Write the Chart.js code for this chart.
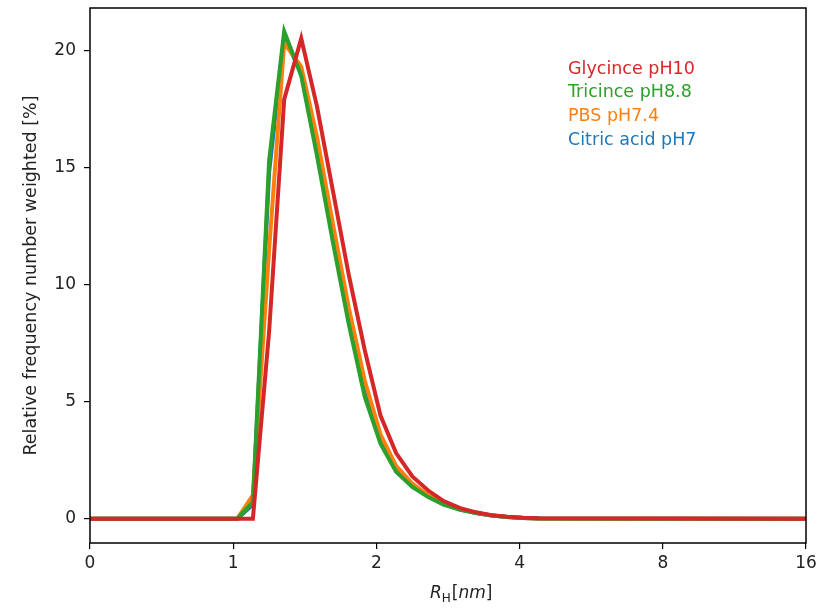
<!DOCTYPE html>
<html>
<head>
<meta charset="utf-8">
<title>Hydrodynamic radius distribution</title>
<script src="https://cdn.jsdelivr.net/npm/chart.js@4.4.1/dist/chart.umd.min.js"></script>
<style>
  html, body { margin: 0; padding: 0; background: #fff; }
  #plot { display: block; }
</style>
</head>
<body>
<canvas id="plot" width="822" height="609"></canvas>
<script>
// hydrodynamic radius bins [nm], log spaced (first/last points pin the flat zero line)
const radius = [0.5, 1.02, 1.10, 1.19, 1.28, 1.39, 1.50, 1.62, 1.75, 1.89, 2.04, 2.20, 2.38, 2.57, 2.77, 3.00, 3.24, 3.49, 3.77, 4.07, 4.40, 16];

// relative frequency, number weighted [%]
const glycine  = [0, 0, 0,   8.0, 17.9, 20.5, 17.6, 14.0, 10.4, 7.2, 4.4, 2.8, 1.8, 1.2, 0.75, 0.45, 0.27, 0.15, 0.08, 0.04, 0.02, 0];
const tricine  = [0, 0, 0.7, 15.3, 20.8, 18.9, 15.5, 11.8, 8.3, 5.2, 3.2, 2.0, 1.35, 0.92, 0.6, 0.38, 0.24, 0.13, 0.07, 0.03, 0.01, 0];
const pbs      = [0, 0, 1.0, 11.5, 20.3, 19.3, 16.3, 12.6, 9.0, 5.9, 3.6, 2.25, 1.5, 1.0, 0.65, 0.41, 0.25, 0.14, 0.07, 0.03, 0.01, 0];
const citric   = [0, 0, 0.6, 14.8, 20.6, 19.0, 15.7, 12.0, 8.5, 5.4, 3.3, 2.05, 1.38, 0.94, 0.61, 0.39, 0.24, 0.13, 0.07, 0.03, 0.01, 0];

const seriesNames  = ['Glycince pH10', 'Tricince pH8.8', 'PBS pH7.4', 'Citric acid pH7'];
const seriesColors = ['#d62728', '#2ca02c', '#ff7f0e', '#1f77b4'];

const xTicks = [0.5, 1, 2, 4, 8, 16];
const xTickLabels = ['0', '1', '2', '4', '8', '16'];
const yTicks = [0, 5, 10, 15, 20];

const FONT = 'DejaVu Sans';

function points(values) {
  return values.map((v, i) => ({ x: radius[i], y: v }));
}

// black box round the plotting area, in-plot legend and the R_H axis label
const decorations = {
  id: 'decorations',
  afterDraw(chart) {
    const { ctx, chartArea: a } = chart;
    ctx.save();
    ctx.strokeStyle = '#000';
    ctx.lineWidth = 1.5;
    ctx.strokeRect(a.left, a.top, a.right - a.left, a.bottom - a.top);

    ctx.font = '17.5px "' + FONT + '"';
    ctx.textBaseline = 'middle';
    ctx.textAlign = 'left';
    seriesNames.forEach((name, i) => {
      ctx.fillStyle = seriesColors[i];
      ctx.fillText(name, 568, 69 + i * 23.7);
    });

    // x label: italic R, upright subscript H, then [nm]
    ctx.fillStyle = '#222';
    ctx.textBaseline = 'alphabetic';
    let x = 430;
    const y = 598;
    ctx.font = 'italic 17px "' + FONT + '"';
    ctx.fillText('R', x, y);
    x += ctx.measureText('R').width;
    ctx.font = '12px "' + FONT + '"';
    ctx.fillText('H', x, y + 4);
    x += ctx.measureText('H').width + 1;
    ctx.font = '17px "' + FONT + '"';
    ctx.fillText('[', x, y);
    x += ctx.measureText('[').width;
    ctx.font = 'italic 17px "' + FONT + '"';
    ctx.fillText('nm', x, y);
    x += ctx.measureText('nm').width;
    ctx.font = '17px "' + FONT + '"';
    ctx.fillText(']', x, y);
    ctx.restore();
  }
};

const datasets = [glycine, tricine, pbs, citric].map((vals, i) => ({
  label: seriesNames[i],
  data: points(vals),
  borderColor: seriesColors[i],
  backgroundColor: seriesColors[i],
  borderWidth: 4,
  pointRadius: 0,
  tension: 0,
  fill: false
}));

new Chart(document.getElementById('plot'), {
  type: 'line',
  data: { datasets },
  options: {
    responsive: false,
    animation: false,
    layout: { padding: { top: 8, right: 16, left: 0, bottom: 0 } },
    plugins: {
      legend: { display: false },
      tooltip: { enabled: false }
    },
    scales: {
      x: {
        type: 'logarithmic',
        min: 0.5,
        max: 16,
        afterBuildTicks: s => { s.ticks = xTicks.map(v => ({ value: v })); },
        afterFit: s => { s.height = 66; s.paddingLeft = 0; s.paddingRight = 0; },
        border: { display: false },
        grid: { display: true, drawOnChartArea: false, drawTicks: true, tickLength: 6, color: '#000', lineWidth: 1.2 },
        ticks: {
          color: '#222',
          font: { family: FONT, size: 17 },
          padding: 4,
          maxRotation: 0,
          autoSkip: false,
          callback: (v, i) => xTickLabels[i]
        }
      },
      y: {
        type: 'linear',
        min: -1.04,
        max: 21.8,
        afterBuildTicks: s => { s.ticks = yTicks.map(v => ({ value: v })); },
        afterFit: s => { s.width = 90; s.paddingTop = 0; s.paddingBottom = 0; },
        border: { display: false },
        grid: { display: true, drawOnChartArea: false, drawTicks: true, tickLength: 6, color: '#000', lineWidth: 1.2 },
        ticks: {
          color: '#222',
          font: { family: FONT, size: 17 },
          padding: 8
        },
        title: {
          display: true,
          text: 'Relative frequency number weighted [%]',
          color: '#222',
          font: { family: FONT, size: 17.5 },
          padding: { top: 21 }
        }
      }
    }
  },
  plugins: [decorations]
});
</script>
</body>
</html>
